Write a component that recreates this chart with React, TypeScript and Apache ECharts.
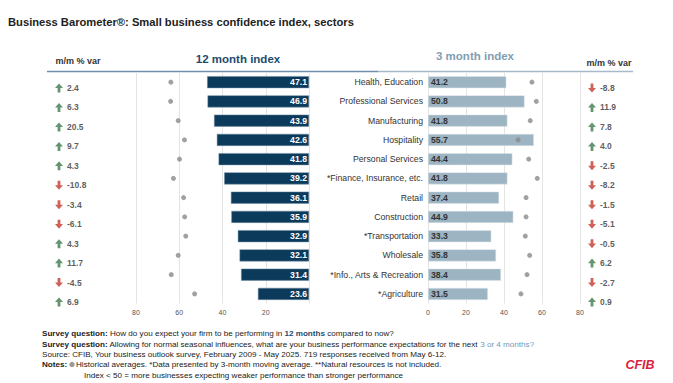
import React, { useEffect, useRef } from "react";
import * as echarts from "echarts";

const categories = [
  "Health, Education",
  "Professional Services",
  "Manufacturing",
  "Hospitality",
  "Personal Services",
  "*Finance, Insurance, etc.",
  "Retail",
  "Construction",
  "*Transportation",
  "Wholesale",
  "*Info., Arts & Recreation",
  "*Agriculture",
];
const index12 = [47.1, 46.9, 43.9, 42.6, 41.8, 39.2, 36.1, 35.9, 32.9, 32.1, 31.4, 23.6];
const hist12 = [63.9, 64.0, 60.5, 57.6, 59.9, 62.7, 58.0, 57.5, 57.0, 60.5, 63.7, 52.9];
const index3 = [41.2, 50.8, 41.8, 55.7, 44.4, 41.8, 37.4, 44.9, 33.3, 35.8, 38.4, 31.5];
const hist3 = [54.7, 57.0, 53.8, 47.4, 53.0, 57.5, 51.6, 51.6, 51.2, 53.5, 52.1, 48.9];
const mm12 = [2.4, 6.3, 20.5, 9.7, 4.3, -10.8, -3.4, -6.1, 4.3, 11.7, -4.5, 6.9];
const mm3 = [-8.8, 11.9, 7.8, 4.0, -2.5, -8.2, -1.5, -5.1, -0.5, 6.2, -2.7, 0.9];
const axisTicks = [0, 20, 40, 60, 80];

const FONT = "'Liberation Sans', Arial, sans-serif";
const UP = "path://M4,0 L8,4.6 L5.4,4.6 L5.4,9 L2.6,9 L2.6,4.6 L0,4.6 Z";
const DOWN = "path://M4,9 L8,4.4 L5.4,4.4 L5.4,0 L2.6,0 L2.6,4.4 L0,4.4 Z";
const GREEN = "#3c7a4c";
const RED = "#c23b2f";
const FN = 8.1;

function mmSeries(vals: number[], idx: number) {
  return {
    type: "scatter",
    xAxisIndex: idx,
    yAxisIndex: idx,
    data: vals.map((v, i) => ({
      value: [0, i],
      symbol: v >= 0 ? UP : DOWN,
      itemStyle: { color: v >= 0 ? GREEN : RED },
    })),
    symbolSize: [8, 9],
    label: {
      show: true,
      position: "right",
      distance: 4,
      formatter: (p: any) => vals[p.dataIndex].toFixed(1),
      color: "#333",
      fontWeight: "bold",
      fontSize: 8.5,
      fontFamily: FONT,
    },
    silent: true,
  };
}

export default function App() {
  const ref = useRef<HTMLDivElement>(null);
  useEffect(() => {
    if (!ref.current) return;
    const chart = echarts.init(ref.current, undefined, { renderer: "svg" });
    const gridTop = 72.5;
    const gridH = 231;
    const mmTop = 78.3;
    const mmH = 233.4;
    const valueAxis = (inverse: boolean, hideZero: boolean, gi: number) => ({
      type: "value",
      gridIndex: gi,
      inverse,
      min: axisTicks[0],
      max: axisTicks[axisTicks.length - 1],
      interval: 20,
      axisLine: { show: false },
      axisTick: { show: false },
      splitLine: { show: true, lineStyle: { color: "#e4e4e4", width: 1 } },
      axisLabel: {
        fontSize: 7,
        color: "#555",
        fontFamily: FONT,
        margin: 5,
        formatter: (v: number) => (hideZero && v === 0 ? "" : String(v)),
      },
    });
    const hiddenX = (gi: number) => ({
      type: "value",
      gridIndex: gi,
      min: 0,
      max: 1,
      show: false,
    });
    const catAxis = (gi: number, showLabel: boolean) => ({
      type: "category",
      gridIndex: gi,
      inverse: true,
      data: categories,
      axisLine: { show: false },
      axisTick: { show: false },
      splitLine: { show: false },
      axisLabel: {
        show: showLabel,
        fontSize: 8.7,
        color: "#333",
        fontFamily: FONT,
        margin: 5,
      },
    });
    chart.setOption({
      animation: false,
      backgroundColor: "#ffffff",
      grid: [
        { left: 136, width: 173, top: gridTop, height: gridH },
        { left: 428, width: 152, top: gridTop, height: gridH },
        { left: 59, width: 10, top: mmTop, height: mmH },
        { left: 592, width: 10, top: mmTop, height: mmH },
      ],
      xAxis: [valueAxis(true, true, 0), valueAxis(false, false, 1), hiddenX(2), hiddenX(3)],
      yAxis: [
        catAxis(0, false),
        catAxis(1, true),
        { ...catAxis(2, false), show: false },
        { ...catAxis(3, false), show: false },
      ],
      series: [
        {
          type: "bar",
          xAxisIndex: 0,
          yAxisIndex: 0,
          data: index12,
          barWidth: 12,
          itemStyle: { color: "#0c3a5b", borderColor: "#6d8aa0", borderWidth: 0.5 },
          label: {
            show: true,
            position: "insideRight",
            distance: 2,
            color: "#ffffff",
            fontWeight: "bold",
            fontSize: 8.7,
            fontFamily: FONT,
            formatter: (p: any) => Number(p.value).toFixed(1),
          },
        },
        {
          type: "scatter",
          xAxisIndex: 0,
          yAxisIndex: 0,
          data: hist12,
          symbolSize: 5,
          itemStyle: { color: "#8a8a8a" },
          z: 5,
        },
        {
          type: "bar",
          xAxisIndex: 1,
          yAxisIndex: 1,
          data: index3,
          barWidth: 12,
          itemStyle: { color: "#9db4c2", borderColor: "#dfe7ec", borderWidth: 0.5 },
          label: {
            show: true,
            position: "insideLeft",
            distance: 3,
            color: "#333",
            fontWeight: "bold",
            fontSize: 8.7,
            fontFamily: FONT,
            formatter: (p: any) => Number(p.value).toFixed(1),
          },
        },
        {
          type: "scatter",
          xAxisIndex: 1,
          yAxisIndex: 1,
          data: hist3,
          symbolSize: 5,
          itemStyle: { color: "#8a8a8a" },
          z: 5,
        },
        mmSeries(mm12, 2),
        mmSeries(mm3, 3),
      ],
      graphic: [
        {
          type: "text",
          left: 8,
          top: 16,
          style: {
            text: "Business Barometer®: Small business confidence index, sectors",
            font: `bold 11.2px ${FONT}`,
            fill: "#222",
          },
        },
        {
          type: "text",
          x: 78,
          y: 61,
          style: {
            text: "m/m % var",
            font: `bold 9px ${FONT}`,
            fill: "#333",
            align: "center",
            verticalAlign: "middle",
          },
        },
        {
          type: "text",
          x: 609,
          y: 63,
          style: {
            text: "m/m % var",
            font: `bold 9px ${FONT}`,
            fill: "#333",
            align: "center",
            verticalAlign: "middle",
          },
        },
        {
          type: "text",
          x: 238,
          y: 59,
          style: {
            text: "12 month index",
            font: `bold 11.5px ${FONT}`,
            fill: "#1d4c6e",
            align: "center",
            verticalAlign: "middle",
          },
        },
        {
          type: "text",
          x: 475,
          y: 56,
          style: {
            text: "3 month index",
            font: `bold 11.5px ${FONT}`,
            fill: "#7f9db3",
            align: "center",
            verticalAlign: "middle",
          },
        },
        {
          type: "line",
          shape: { x1: 47, y1: 71.5, x2: 378, y2: 71.5 },
          style: { stroke: "#6f8faa", lineWidth: 1.5 },
        },
        {
          type: "line",
          shape: { x1: 378, y1: 71.5, x2: 633, y2: 71.5 },
          style: { stroke: "#a5b9c8", lineWidth: 1.5 },
        },
        {
          type: "text",
          x: 42,
          y: 333.5,
          style: {
            text: "{b|Survey question:} How do you expect your firm to be performing in {d|12 months} compared to now?",
            font: `${FN}px ${FONT}`,
            fill: "#222",
            verticalAlign: "middle",
            rich: {
              b: { fontWeight: "bold", fontSize: FN, fontFamily: FONT, fill: "#222" },
              d: { fontWeight: "bold", fontSize: FN, fontFamily: FONT, fill: "#1d4c6e" },
            },
          },
        },
        {
          type: "text",
          x: 42,
          y: 344,
          style: {
            text: "{b|Survey question:} Allowing for normal seasonal influences, what are your business performance expectations for the next {l|3 or 4 months?}",
            font: `${FN}px ${FONT}`,
            fill: "#222",
            verticalAlign: "middle",
            rich: {
              b: { fontWeight: "bold", fontSize: FN, fontFamily: FONT, fill: "#222" },
              l: { fontSize: FN, fontFamily: FONT, fill: "#6f98b8" },
            },
          },
        },
        {
          type: "text",
          x: 42,
          y: 354.5,
          style: {
            text: "Source: CFIB, Your business outlook survey, February 2009 - May 2025. 719 responses received from May 6-12.",
            font: `${FN}px ${FONT}`,
            fill: "#222",
            verticalAlign: "middle",
          },
        },
        {
          type: "text",
          x: 42,
          y: 364.8,
          style: {
            text: "Notes:",
            font: `bold ${FN}px ${FONT}`,
            fill: "#222",
            verticalAlign: "middle",
          },
        },
        {
          type: "circle",
          shape: { cx: 72, cy: 364.5, r: 2.7 },
          style: { fill: "#9a9a9a" },
        },
        {
          type: "text",
          x: 76,
          y: 364.8,
          style: {
            text: "Historical averages. *Data presented by 3-month moving average. **Natural resources is not included.",
            font: `${FN}px ${FONT}`,
            fill: "#222",
            verticalAlign: "middle",
          },
        },
        {
          type: "text",
          x: 84,
          y: 375.2,
          style: {
            text: "Index < 50 = more businesses expecting weaker performance than stronger performance",
            font: `${FN}px ${FONT}`,
            fill: "#222",
            verticalAlign: "middle",
          },
        },
        {
          type: "text",
          x: 640,
          y: 365,
          style: {
            text: "CFIB",
            font: `italic bold 12.5px ${FONT}`,
            fill: "#d9233f",
            align: "center",
            verticalAlign: "middle",
          },
        },
      ],
    });
    return () => chart.dispose();
  }, []);
  return (
    <div
      ref={ref}
      style={{ position: "fixed", left: 0, top: 0, width: 673, height: 383 }}
    />
  );
}
